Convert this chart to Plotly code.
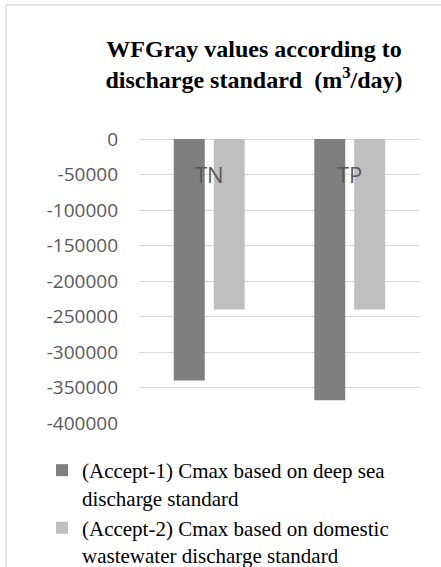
import plotly.graph_objects as go

# Pollutant categories and grey water footprint values (m3/day)
categories = ["TN", "TP"]
accept1_values = [-340000, -368000]
accept2_values = [-240000, -240000]
series_names = [
    "(Accept-1) Cmax based on deep sea<br>discharge standard",
    "(Accept-2) Cmax based on domestic<br>wastewater discharge standard",
]
y_ticks = [0, -50000, -100000, -150000, -200000, -250000, -300000, -350000, -400000]

W, H = 441, 567
ML, MR, MT, MB = 139, 21, 139, 144
PW, PH = W - ML - MR, H - MT - MB

def px_x(x):
    return (x - ML) / PW

def px_y(y):
    return (H - MB - y) / PH

fig = go.Figure()
fig.add_trace(go.Bar(x=categories, y=accept1_values, name=series_names[0],
                     marker=dict(color="#7f7f7f", line=dict(width=0))))
fig.add_trace(go.Bar(x=categories, y=accept2_values, name=series_names[1],
                     marker=dict(color="#bfbfbf", line=dict(width=0))))

# category labels sit just under the zero line
for c in categories:
    fig.add_annotation(x=c, y=0, xref="x", yref="y", text=c, showarrow=False,
                       yanchor="middle", yshift=-35,
                       font=dict(family="Open Sans", size=22, color="#595959"))

# chart frame (left and top edges)
frame = dict(type="line", xref="paper", yref="paper",
             line=dict(color="#d9d9d9", width=1.3))
fig.add_shape(**frame, x0=px_x(6), x1=px_x(6), y0=px_y(600), y1=px_y(5))
fig.add_shape(**frame, x0=px_x(6), x1=px_x(480), y0=px_y(5), y1=px_y(5))

fig.update_layout(
    width=W, height=H,
    margin=dict(l=ML, r=MR, t=MT, b=MB, autoexpand=False),
    paper_bgcolor="white", plot_bgcolor="white",
    barmode="group", bargap=0.431, bargroupgap=0.225,
    title=dict(
        text="WFGray values according to<br>discharge standard  (m<sup>3</sup>/day)",
        x=254 / W, xanchor="center", xref="container",
        y=1 - 57 / H, yanchor="top", yref="container",
        font=dict(family="Liberation Serif", size=24, color="black", weight="bold"),
    ),
    showlegend=True,
    legend=dict(
        x=px_x(42), y=px_y(450), xanchor="left", yanchor="top",
        valign="top",
        font=dict(family="Liberation Serif", size=21, color="black"),
        bgcolor="rgba(0,0,0,0)", tracegroupgap=0, traceorder="normal",
    ),
    xaxis=dict(showticklabels=False, showgrid=False, zeroline=False,
               showline=False, ticks=""),
    yaxis=dict(range=[-400000, 0], tickvals=y_ticks,
               ticktext=[str(v) for v in y_ticks],
               showgrid=True, gridcolor="#d9d9d9", gridwidth=1,
               zeroline=True, zerolinecolor="#d9d9d9", zerolinewidth=1,
               showline=False, ticks="", ticklabelstandoff=20,
               tickfont=dict(family="Open Sans", size=19, color="#595959")),
)

fig.write_html("out.html")
